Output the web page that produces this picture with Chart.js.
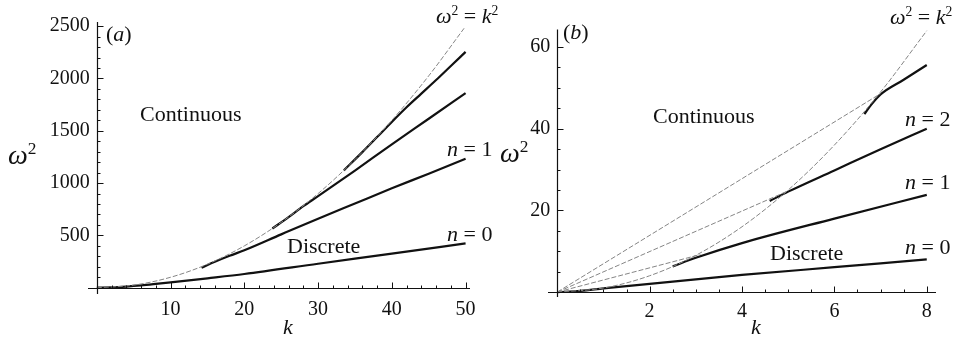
<!DOCTYPE html>
<html>
<head>
<meta charset="utf-8">
<script src="https://cdn.jsdelivr.net/npm/chart.js@4.4.0/dist/chart.umd.min.js"></script>
<style>
  html, body { margin: 0; padding: 0; background: #fff; }
  #wrap { position: relative; width: 967px; height: 341px; overflow: hidden; }
  canvas { position: absolute; top: 0; }
  #chartA { left: 0; }
  #chartB { left: 480px; }
</style>
</head>
<body>
<div id="wrap">
  <canvas id="chartA" width="500" height="341"></canvas>
  <canvas id="chartB" width="487" height="341"></canvas>
</div>
<script>
// ---- panel (a) values ----
const kParabolaA = [0, 5, 10, 15, 20, 25, 30, 35, 40, 45, 49.8];
const wParabolaA = [0, 25, 100, 225, 400, 625, 900, 1225, 1600, 2025, 2480];
const kN0A = [0, 2, 4, 6, 8, 10, 15, 20, 30, 40, 50];
const wN0A = [0, 3, 11, 22, 36, 51, 90, 131, 229, 326, 424];
const kN1A = [14.2, 16, 18, 20, 25, 30, 35, 40, 45, 50];
const wN1A = [192, 248, 305, 358, 510, 660, 805, 950, 1090, 1233];
const kN2A = [23.8, 26, 28, 30, 35, 40, 45, 50];
const wN2A = [566, 675, 780, 875, 1120, 1370, 1615, 1861];
const kN3A = [33.5, 36, 38, 40, 42, 44, 46, 48, 50];
const wN3A = [1122, 1296, 1440, 1585, 1725, 1855, 1985, 2120, 2254];
const xTicksA = [10, 20, 30, 40, 50];
const yTicksA = [500, 1000, 1500, 2000, 2500];

// ---- panel (b) values ----
const kParabolaB = [0, 1, 2, 3, 4, 5, 6, 7, 8];
const wParabolaB = [0, 1, 4, 9, 16, 25, 36, 49, 64];
const kRay1B = [0, 3.1];
const wRay1B = [0, 9.2];
const kRay2B = [0, 5];
const wRay2B = [0, 24.8];
const kRay3B = [0, 7];
const wRay3B = [0, 48.6];
const kN0B = [0, 0.5, 1, 2, 4, 6, 8];
const wN0B = [0, 0.3, 0.9, 2.0, 4.2, 6.1, 8.0];
const kN1B = [2.5, 3, 4, 6, 8];
const wN1B = [6.3, 8.4, 12.0, 18.0, 23.8];
const kN2B = [4.6, 5, 6, 7, 8];
const wN2B = [22.3, 24.6, 29.8, 35, 40];
const kN3B = [6.65, 6.8, 7.0, 7.5, 8];
const wN3B = [43.6, 45.9, 48.4, 52.0, 55.6];
const xTicksB = [2, 4, 6, 8];
const yTicksB = [20, 40, 60];

const SERIF = '"Liberation Serif", "Times New Roman", serif';
const INK = '#111';

function series(ks, ws) {
  return ks.map((k, i) => ({ x: k, y: ws[i] }));
}

function curve(ks, ws, gray) {
  return {
    data: series(ks, ws),
    showLine: true,
    pointRadius: 0,
    borderColor: gray ? '#858585' : INK,
    borderWidth: gray ? 1 : 2.2,
    borderDash: gray ? [5, 2] : [],
    cubicInterpolationMode: 'monotone',
    fill: false
  };
}

// linear axis, labels only on the major ticks; the axis lines themselves
// are drawn by the crossAxes plugin so that they cross at the origin
function axis(min, max, majors, minorStep, pos, padding) {
  return {
    type: 'linear',
    min: min,
    max: max,
    position: pos,
    grid: { drawOnChartArea: false, drawTicks: false },
    border: { display: false },
    afterBuildTicks: scale => {
      const list = [];
      for (let i = 1; i * minorStep <= max + 1e-9; i++) {
        const v = Math.round(i * minorStep * 1000) / 1000;
        list.push({ value: v, big: majors.some(m => Math.abs(m - v) < 1e-6) });
      }
      scale.ticks = list;
    },
    ticks: {
      autoSkip: false,
      maxRotation: 0,
      padding: padding,
      color: INK,
      font: { family: SERIF, size: 20 },
      callback: (v, i, ticks) => (ticks[i] && ticks[i].big ? String(v) : '')
    }
  };
}

// axis lines through the origin with small tick marks pointing inward
const crossAxes = {
  id: 'crossAxes',
  afterDraw(chart) {
    const { ctx, chartArea: a, scales: { x, y } } = chart;
    const x0 = Math.round(x.getPixelForValue(0)) + 0.5;
    const y0 = Math.round(y.getPixelForValue(0)) + 0.5;
    ctx.save();
    ctx.strokeStyle = INK;
    ctx.lineWidth = 1.2;
    ctx.beginPath();
    ctx.moveTo(a.left, y0);
    ctx.lineTo(a.right, y0);
    ctx.moveTo(x0, a.top);
    ctx.lineTo(x0, a.bottom);
    ctx.stroke();
    ctx.lineWidth = 1;
    ctx.beginPath();
    x.ticks.forEach(t => {
      const px = Math.round(x.getPixelForValue(t.value)) + 0.5;
      ctx.moveTo(px, y0);
      ctx.lineTo(px, y0 - (t.big ? 6 : 3));
    });
    y.ticks.forEach(t => {
      const py = Math.round(y.getPixelForValue(t.value)) + 0.5;
      ctx.moveTo(x0, py);
      ctx.lineTo(x0 + (t.big ? 6 : 3), py);
    });
    ctx.stroke();
    ctx.restore();
  }
};

// text with italic symbols and superscripts
function rich(ctx, x, y, runs, size) {
  let cx = x;
  runs.forEach(r => {
    const s = r.sup ? size * 0.62 : size;
    ctx.font = (r.it ? 'italic ' : '') + s + 'px ' + SERIF;
    ctx.fillText(r.t, cx, y - (r.sup ? size * 0.27 : 0));
    cx += ctx.measureText(r.t).width;
  });
}

const notes = {
  id: 'notes',
  afterDraw(chart, args, opts) {
    const ctx = chart.ctx;
    ctx.save();
    ctx.fillStyle = INK;
    ctx.textBaseline = 'middle';
    ctx.textAlign = 'left';
    (opts.items || []).forEach(n => rich(ctx, n.x, n.y, n.runs, n.size));
    ctx.restore();
  }
};

const W2 = [{ t: 'ω', it: true }, { t: '2', sup: true }];
const W2K2 = [{ t: 'ω', it: true }, { t: '2', sup: true }, { t: ' = ' }, { t: 'k', it: true }, { t: '2', sup: true }];
const nEq = v => [{ t: 'n', it: true }, { t: ' = ' + v }];
const plain = s => [{ t: s }];
const tag = s => [{ t: '(' }, { t: s, it: true }, { t: ')' }];

function makeChart(id, datasets, xAxis, yAxis, padding, items) {
  return new Chart(document.getElementById(id).getContext('2d'), {
    type: 'scatter',
    data: { datasets: datasets },
    options: {
      responsive: false,
      animation: false,
      layout: { padding: padding },
      scales: { x: xAxis, y: yAxis },
      plugins: {
        legend: { display: false },
        tooltip: { enabled: false },
        notes: { items: items }
      }
    },
    plugins: [crossAxes, notes]
  });
}

// Panel (a): y labels sit a little left of k = 0
makeChart('chartA', [
  curve(kParabolaA, wParabolaA, true),
  curve(kN0A, wN0A, false),
  curve(kN1A, wN1A, false),
  curve(kN2A, wN2A, false),
  curve(kN3A, wN3A, false)
],
  axis(-1.2, 50.6, xTicksA, 2, { y: 0 }, 10),
  axis(-60, 2540, yTicksA, 100, { x: -0.95 }, 0),
  { left: 88, right: 30, top: 22, bottom: 47 },
  [
    { x: 106, y: 35, runs: tag('a'), size: 22 },
    { x: 140, y: 115, runs: plain('Continuous'), size: 22 },
    { x: 287, y: 247, runs: plain('Discrete'), size: 22 },
    { x: 8, y: 157, runs: W2, size: 28 },
    { x: 283, y: 328, runs: [{ t: 'k', it: true }], size: 22 },
    { x: 436, y: 17, runs: W2K2, size: 22 },
    { x: 447, y: 150, runs: nEq(1), size: 22 },
    { x: 447, y: 235, runs: nEq(0), size: 22 }
  ]);

// Panel (b)
makeChart('chartB', [
  curve(kParabolaB, wParabolaB, true),
  curve(kRay1B, wRay1B, true),
  curve(kRay2B, wRay2B, true),
  curve(kRay3B, wRay3B, true),
  curve(kN0B, wN0B, false),
  curve(kN1B, wN1B, false),
  curve(kN2B, wN2B, false),
  curve(kN3B, wN3B, false)
],
  axis(-0.2, 8.2, xTicksB, 0.5, { y: 0 }, 8),
  axis(-1.2, 64.3, yTicksB, 5, { x: -0.15 }, 0),
  { left: 68, right: 31, top: 29.5, bottom: 44 },
  [
    { x: 83, y: 33, runs: tag('b'), size: 22 },
    { x: 173, y: 117, runs: plain('Continuous'), size: 22 },
    { x: 290, y: 254, runs: plain('Discrete'), size: 22 },
    { x: 20, y: 155, runs: W2, size: 28 },
    { x: 271, y: 328, runs: [{ t: 'k', it: true }], size: 22 },
    { x: 410, y: 18, runs: W2K2, size: 22 },
    { x: 425, y: 120, runs: nEq(2), size: 22 },
    { x: 425, y: 183, runs: nEq(1), size: 22 },
    { x: 425, y: 248, runs: nEq(0), size: 22 }
  ]);
</script>
</body>
</html>
